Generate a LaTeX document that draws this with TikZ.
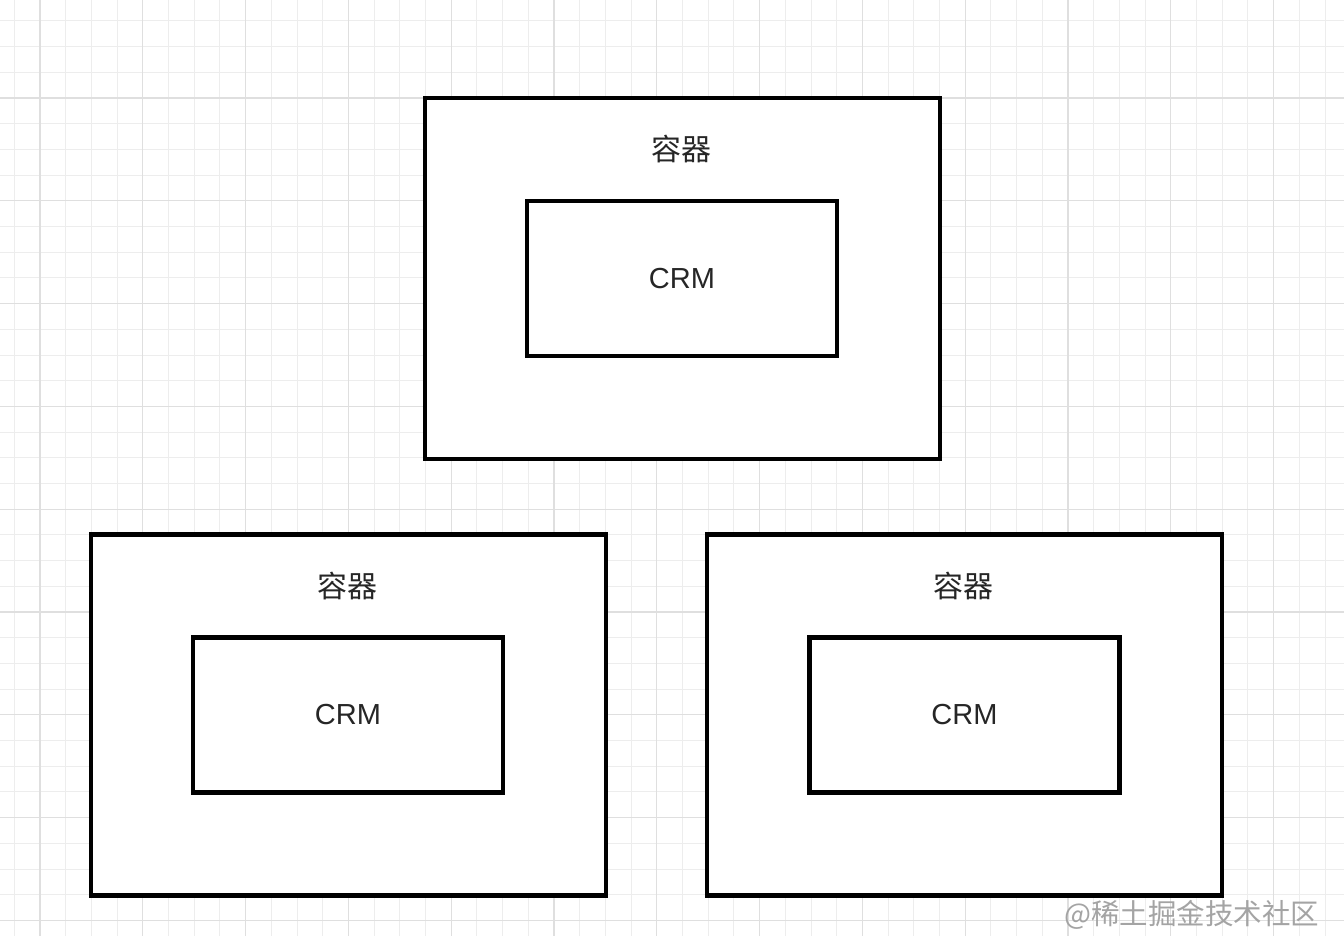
\documentclass[tikz,border=0pt]{standalone}
\usepackage{fontspec}
\setmainfont{Liberation Sans}
\newfontfamily\cjk{Noto Sans CJK SC}
\usetikzlibrary{positioning}
\definecolor{racsvekony}{HTML}{EDEDED}
\definecolor{racsvastag}{HTML}{DFDFDF}
\definecolor{jelszurke}{HTML}{A4A4A4}
\tikzset{
  kulso/.style={draw,line width=4.5pt,minimum width=515pt,minimum height=361pt,inner sep=0pt},
  belso/.style={draw,line width=4.5pt,minimum width=310pt,minimum height=155pt,inner sep=0pt,
    font=\fontsize{29}{34}\selectfont,text=black!85},
  cimke/.style={font=\cjk\fontsize{30}{36}\selectfont,text=black!85,inner sep=0pt},
}

\begin{document}
\begin{tikzpicture}[x=1pt,y=-1pt]
  \useasboundingbox (0,0) rectangle (1344,936);
  % racs
  \begin{scope}
    \clip (0,0) rectangle (1344,936);
    \fill[white] (0,0) rectangle (1344,936);
    \foreach \i in {0,...,52} \draw[racsvekony,line width=1pt] ({14.3+25.7*\i},0) -- ({14.3+25.7*\i},936);
    \foreach \j in {0,...,37} \draw[racsvekony,line width=1pt] (0,{20.9+25.7*\j}) -- (1344,{20.9+25.7*\j});
    \foreach \i in {0,...,13} \draw[racsvastag,line width=1.1pt] ({40+102.8*\i},0) -- ({40+102.8*\i},936);
    \foreach \j in {-1,...,8} \draw[racsvastag,line width=1.1pt] (0,{98+102.8*\j}) -- (1344,{98+102.8*\j});
  \end{scope}
  % felso
  \node[kulso,fill=white] (k1) at (682.5,278.5) {};
  \node[belso] (b1) at (682,278.5) {CRM};
  \node[cimke] (c1) at (681,149) {容器};
  % bal also
  \node[kulso,fill=white] (k2) at (348.5,715) {};
  \node[belso] (b2) at (348,715) {CRM};
  \node[cimke] (c2) at (347,586) {容器};
  % jobb also
  \node[kulso,fill=white] (k3) at (964.5,715) {};
  \node[belso] (b3) at (964.5,715) {CRM};
  \node[cimke] (c3) at (963,586) {容器};
  % vizjel
  \node[font=\cjk\fontsize{28.5}{33}\selectfont,text=jelszurke,inner sep=0pt] (jel) at (1192,915) {@稀土掘金技术社区};
\end{tikzpicture}
\end{document}
